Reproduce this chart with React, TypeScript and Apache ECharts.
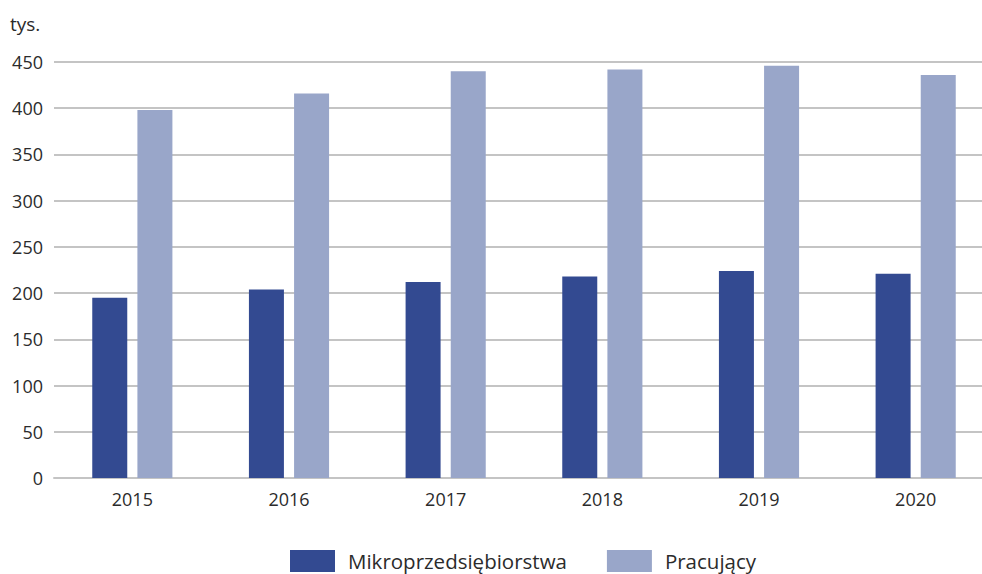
import React, { useEffect, useRef } from "react";
import * as echarts from "echarts";

const categories = ["2015", "2016", "2017", "2018", "2019", "2020"];
const mikro = [195, 204, 212, 218, 224, 221];
const pracujacy = [398, 416, 440, 442, 446, 436];
const seriesNames = ["Mikroprzedsiębiorstwa", "Pracujący"];
const unitLabel = "tys.";

export default function App() {
  const ref = useRef<HTMLDivElement>(null);
  useEffect(() => {
    if (!ref.current) return;
    const chart = echarts.init(ref.current, null, { renderer: "svg" });
    const font = "'Open Sans', 'Noto Sans', sans-serif";
    const textColor = "#2b2b2b";
    chart.setOption({
      animation: false,
      textStyle: { fontFamily: font },
      grid: { left: 54, width: 940, top: 62, height: 416, containLabel: false },
      graphic: [
        {
          type: "text",
          left: 10,
          top: 14,
          style: { text: unitLabel, fontSize: 19, fill: textColor, fontFamily: font },
        },
      ],
      legend: {
        top: 550,
        left: 290,
        padding: 0,
        itemWidth: 45,
        itemHeight: 22,
        itemGap: 40,
        icon: "rect",
        textStyle: { fontSize: 20.5, color: textColor, fontFamily: font, padding: [0, 0, 0, 8] },
        data: seriesNames,
      },
      xAxis: {
        type: "category",
        data: categories,
        axisTick: { show: false },
        axisLine: { lineStyle: { color: "#c4c4c4", width: 2 } },
        axisLabel: { fontSize: 18, color: textColor, margin: 12, fontFamily: font },
      },
      yAxis: {
        type: "value",
        min: 0,
        max: 450,
        interval: 50,
        axisLine: { show: false },
        axisTick: { show: false },
        axisLabel: { fontSize: 18, color: textColor, margin: 11, fontFamily: font },
        splitLine: { lineStyle: { color: "#c4c4c4", width: 2 } },
      },
      series: [
        {
          name: seriesNames[0],
          type: "bar",
          data: mikro,
          barWidth: 35,
          barGap: "29%",
          itemStyle: { color: "#334a91" },
        },
        {
          name: seriesNames[1],
          type: "bar",
          data: pracujacy,
          barWidth: 35,
          barGap: "29%",
          itemStyle: { color: "#99a6c9" },
        },
      ],
    });
    return () => chart.dispose();
  }, []);
  return (
    <div
      style={{
        position: "fixed",
        left: 0,
        top: 0,
        width: 982,
        height: 574,
        overflow: "hidden",
        background: "#fff",
      }}
    >
      <div ref={ref} style={{ width: 1000, height: 574 }} />
    </div>
  );
}
